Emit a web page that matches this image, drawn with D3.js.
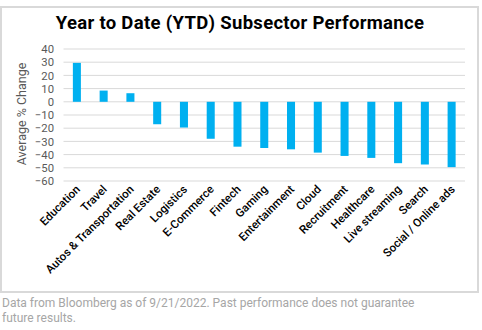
<!DOCTYPE html>
<html>
<head>
<meta charset="utf-8">
<script src="https://cdn.jsdelivr.net/npm/d3@7"></script>
<style>
  body { margin: 0; background: #fff; }
  svg { display: block; }
</style>
</head>
<body>
<div id="chart"></div>
<script>
const categories = ['Education', 'Travel', 'Autos & Transportation', 'Real Estate', 'Logistics',
  'E-Commerce', 'Fintech', 'Gaming', 'Entertainment', 'Cloud', 'Recruitment', 'Healthcare',
  'Live streaming', 'Search', 'Social / Online ads'];
const values = [29.5, 8.5, 6.5, -17, -19.5, -28, -34, -35, -36, -38.5, -41, -42.5, -46.5, -47.5, -49.5];
const yTicks = [40, 30, 20, 10, 0, -10, -20, -30, -40, -50, -60];

const width = 482, height = 330;

const svg = d3.select('#chart').append('svg')
  .attr('width', width)
  .attr('height', height)
  .attr('font-family', 'Roboto, sans-serif');

// frame
svg.append('rect')
  .attr('x', 1).attr('y', 7)
  .attr('width', 477).attr('height', 285)
  .attr('fill', 'none')
  .attr('stroke', '#d9d9d9')
  .attr('stroke-width', 2);

svg.append('text')
  .attr('x', 240).attr('y', 29)
  .attr('text-anchor', 'middle')
  .attr('font-size', 18.5)
  .attr('font-weight', 'bold')
  .attr('letter-spacing', 0.3)
  .attr('fill', '#000')
  .text('Year to Date (YTD) Subsector Performance');

const x = d3.scaleBand()
  .domain(categories)
  .range([63.5, 465])
  .paddingInner(0.7)
  .paddingOuter(0.35);

const y = d3.scaleLinear()
  .domain([-60, 40])
  .range([181, 49]);

// grid
svg.append('g')
  .selectAll('line')
  .data(yTicks)
  .join('line')
  .attr('x1', 63.5).attr('x2', 465)
  .attr('y1', d => y(d)).attr('y2', d => y(d))
  .attr('stroke', '#d9d9d9')
  .attr('stroke-width', 1);

const yAxis = svg.append('g')
  .attr('transform', 'translate(54,0)')
  .call(d3.axisLeft(y).tickValues(yTicks).tickSize(0).tickPadding(0));
yAxis.select('.domain').remove();
yAxis.selectAll('text')
  .attr('font-size', 11.3)
  .attr('font-family', 'Roboto, sans-serif')
  .attr('fill', '#595959');

svg.append('text')
  .attr('transform', 'translate(26,114) rotate(-90)')
  .attr('text-anchor', 'middle')
  .attr('font-size', 12.5)
  .attr('fill', '#595959')
  .text('Average % Change');

// bars
svg.append('g')
  .selectAll('rect')
  .data(values)
  .join('rect')
  .attr('x', (d, i) => x(categories[i]))
  .attr('width', x.bandwidth())
  .attr('y', d => y(Math.max(0, d)))
  .attr('height', d => Math.abs(y(d) - y(0)))
  .attr('fill', '#00b0f0');

// category labels
svg.append('g')
  .selectAll('text')
  .data(categories)
  .join('text')
  .attr('transform', d => `translate(${x(d) + x.bandwidth() / 2 + 4},190) rotate(-45)`)
  .attr('text-anchor', 'end')
  .attr('font-size', 11.5)
  .attr('font-weight', 500)
  .attr('fill', '#000')
  .text(d => d);

// footnote
const foot = svg.append('text')
  .attr('font-size', 12)
  .attr('fill', '#a6a6a6');
foot.append('tspan').attr('x', 2).attr('y', 307)
  .text('Data from Bloomberg as of 9/21/2022. Past performance does not guarantee');
foot.append('tspan').attr('x', 2).attr('y', 322)
  .text('future results.');
</script>
</body>
</html>
